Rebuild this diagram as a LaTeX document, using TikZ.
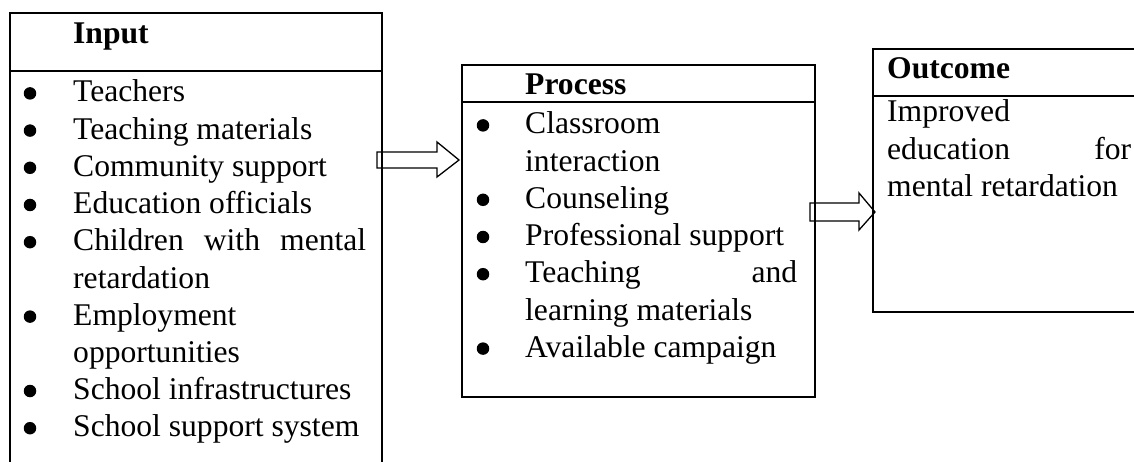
\documentclass[tikz,border=0pt]{standalone}
\usepackage{fontspec}
\setmainfont{Liberation Serif}
\begin{document}
\begin{tikzpicture}[x=1pt,y=-1pt,
  txt/.style={inner sep=0pt, anchor=base west, font=\fontsize{31.6pt}{37pt}\selectfont},
  head/.style={inner sep=0pt, anchor=base west, font=\fontsize{31.6pt}{37pt}\selectfont\bfseries},
  frame/.style={line width=1.8pt},
  blockarrow/.style={draw, fill=white, line width=1.3pt, line join=miter},
  bullet/.style={circle, fill=black, inner sep=0pt, minimum size=12.5pt}]
\clip (0,0) rectangle (1134,462);

% block arrows (drawn first so the frame edges lie over their tails)
\coordinate (a1) at (377,152);
\coordinate (a2) at (810,203);
\draw[blockarrow] (a1) -- (437,152) -- (437,142) -- (459,160) -- (437,177) -- (437,168) -- (377,168) -- cycle;
\draw[blockarrow] (a2) -- (859,203) -- (859,193) -- (875,212) -- (859,230) -- (859,221) -- (810,221) -- cycle;

% frames
\draw[frame] (10,480) -- (10,13) -- (382,13) -- (382,480);
\draw[frame] (10,71) -- (382,71);
\draw[frame] (462,65) rectangle (815,397);
\draw[frame] (462,102) -- (815,102);
\draw[frame] (1140,49) -- (873,49) -- (873,312) -- (1140,312);
\draw[frame] (873,96) -- (1140,96);

% Input
\node[head] (inhead) at (73,43.3) {Input};
\foreach \k/\t in {0/Teachers, 1/Teaching materials, 2/Community support, 3/Education officials,
                   5/retardation, 6/Employment, 7/opportunities, 8/School infrastructures,
                   9/School support system}
  \node[txt] (in\k) at (73,102+37.2*\k) {\t};
\node[txt] (in4) at (73,250.8) {\makebox[293pt][s]{Children with mental}};
\foreach \k in {0,1,2,3,4,6,8,9}
  \node[bullet] (inb\k) at (30,93.4+37.2*\k) {};

% Process
\node[head] (prhead) at (525,95) {Process};
\foreach \k/\t in {0/Classroom, 1/interaction, 2/Counseling, 3/Professional support,
                   5/learning materials, 6/Available campaign}
  \node[txt] (pr\k) at (525,134+37.2*\k) {\t};
\node[txt] (pr4) at (525,282.8) {\makebox[272pt][s]{Teaching and}};
\foreach \k in {0,2,3,4,6}
  \node[bullet] (prb\k) at (483,125.4+37.2*\k) {};

% Outcome
\node[head] (ouhead) at (887,78.3) {Outcome};
\node[txt] (ou0) at (887,122) {Improved};
\node[txt] (ou1) at (887,159.2) {\makebox[244pt][s]{education for}};
\node[txt] (ou2) at (887,196.4) {mental retardation};
\end{tikzpicture}
\end{document}
